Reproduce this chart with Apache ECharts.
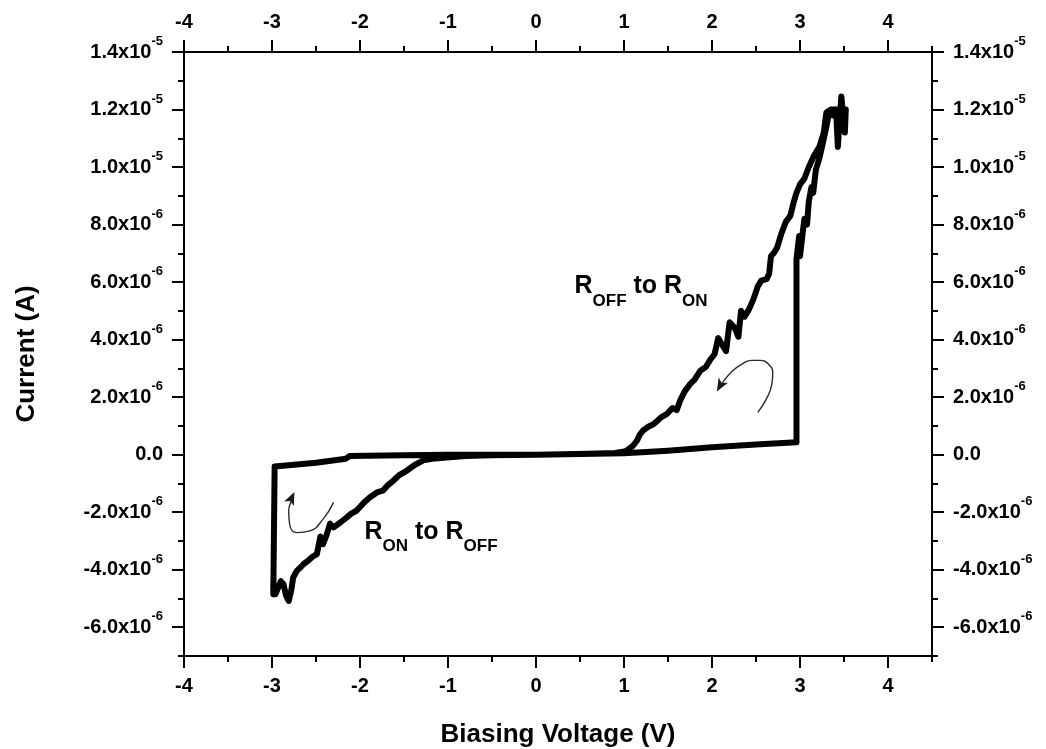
<!DOCTYPE html>
<html>
<head>
<meta charset="utf-8">
<script src="https://cdn.jsdelivr.net/npm/echarts@6/dist/echarts.min.js"></script>
<style>
  html, body { margin: 0; padding: 0; background: #ffffff; }
  #chart { width: 1046px; height: 749px; }
</style>
</head>
<body>
<div id="chart"></div>
<script>
// ---- Data: I-V hysteresis loop (voltage in V, current in µA) ----
const xTickValues = [-4, -3, -2, -1, 0, 1, 2, 3, 4];
const xTickLabels = ['-4', '-3', '-2', '-1', '0', '1', '2', '3', '4'];

const yTickValues   = [-6, -4, -2, 0, 2, 4, 6, 8, 10, 12, 14];
const yTickMantissa = ['-6.0', '-4.0', '-2.0', '0.0', '2.0', '4.0', '6.0', '8.0', '1.0', '1.2', '1.4'];
const yTickExponent = ['-6', '-6', '-6', '', '-6', '-6', '-6', '-6', '-5', '-5', '-5'];

// OFF state, sweeping 0 -> +3 V
const offSweepPositive = [
  [0, 0], [0.5, 0.02], [1.0, 0.05], [1.5, 0.14], [2.0, 0.26], [2.5, 0.35], [2.96, 0.43]
];
// Switching to ON and rising to +3.5 V
const setTransition = [
  [2.96, 6.8], [2.99, 7.6], [3.0, 6.9], [3.03, 7.7], [3.05, 8.2], [3.08, 8.0], [3.1, 8.8],
  [3.13, 9.3], [3.15, 9.1], [3.18, 9.9], [3.22, 10.3], [3.25, 10.7], [3.3, 11.4], [3.33, 11.9],
  [3.37, 11.8], [3.41, 12.0], [3.43, 10.7], [3.45, 11.6], [3.47, 12.45], [3.49, 11.8],
  [3.51, 11.2], [3.52, 12.0]
];
// ON state, sweeping +3.5 V back to 0
const onReturnPositive = [
  [3.5, 11.8], [3.42, 12.0], [3.35, 12.0], [3.3, 11.9], [3.27, 11.2], [3.22, 10.7], [3.16, 10.4],
  [3.1, 10.0], [3.05, 9.6], [3.0, 9.4], [2.96, 9.1], [2.93, 8.8], [2.89, 8.3], [2.84, 8.1],
  [2.79, 7.7], [2.74, 7.2], [2.7, 7.0], [2.67, 6.9], [2.65, 6.3], [2.62, 6.1], [2.56, 6.05],
  [2.52, 5.85], [2.47, 5.4], [2.42, 5.05], [2.37, 4.8], [2.33, 5.0], [2.3, 4.1], [2.26, 4.4],
  [2.2, 4.6], [2.16, 3.6], [2.12, 3.8], [2.07, 4.05], [2.03, 3.5], [1.98, 3.3], [1.93, 3.05],
  [1.87, 2.93], [1.8, 2.6], [1.75, 2.45], [1.69, 2.2], [1.64, 1.9], [1.6, 1.55], [1.55, 1.62],
  [1.49, 1.42], [1.42, 1.3], [1.37, 1.15], [1.33, 1.05], [1.28, 0.98], [1.22, 0.85], [1.18, 0.7],
  [1.15, 0.5], [1.1, 0.3], [1.02, 0.12], [0.9, 0.06], [0.6, 0.03], [0, 0]
];
// ON state, sweeping 0 -> -3 V
const onSweepNegative = [
  [-0.5, -0.02], [-0.8, -0.05], [-0.98, -0.09], [-1.15, -0.13], [-1.28, -0.2], [-1.38, -0.36],
  [-1.47, -0.56], [-1.55, -0.7], [-1.62, -0.9], [-1.68, -1.05], [-1.74, -1.25], [-1.8, -1.3],
  [-1.89, -1.49], [-1.95, -1.65], [-2.04, -1.95], [-2.1, -2.05], [-2.15, -2.18], [-2.22, -2.35],
  [-2.3, -2.53], [-2.34, -2.4], [-2.38, -2.8], [-2.42, -3.11], [-2.45, -2.85], [-2.49, -3.46],
  [-2.54, -3.55], [-2.59, -3.69], [-2.64, -3.8], [-2.68, -3.93], [-2.72, -4.05], [-2.76, -4.28],
  [-2.78, -4.7], [-2.81, -5.09], [-2.84, -4.9], [-2.87, -4.5], [-2.9, -4.4], [-2.93, -4.62],
  [-2.96, -4.85], [-2.985, -4.45], [-2.985, -4.85]
];
// Reset to OFF and sweep back to 0
const offReturnNegative = [
  [-2.97, -0.41], [-2.5, -0.28], [-2.16, -0.14], [-2.12, -0.05], [-1.5, -0.02], [-1.0, 0], [0, 0]
];

// Sweep-direction arrows (arc paths and heads)
const arrowArcSet   = [[2.52, 1.47], [2.62, 1.95], [2.68, 2.45], [2.69, 2.85], [2.64, 3.15], [2.55, 3.28],
                       [2.45, 3.28], [2.34, 3.15], [2.23, 2.9], [2.13, 2.55], [2.07, 2.28]];
const arrowArcReset = [[-2.30, -1.66], [-2.42, -2.24], [-2.57, -2.65], [-2.72, -2.71], [-2.80, -2.41],
                       [-2.81, -1.95], [-2.78, -1.6], [-2.755, -1.38]];
const arrowHeads    = [[2.055, 2.2, 150], [-2.745, -1.3, -25]];

const loop = [].concat(offSweepPositive, setTransition, onReturnPositive, onSweepNegative, offReturnNegative);

// ---- Chart ----
const FONT = '"Liberation Sans", Arial, Helvetica, sans-serif';
const chart = echarts.init(document.getElementById('chart'), null, { renderer: 'canvas' });

function yLabel(val) {
  const i = yTickValues.findIndex(v => Math.abs(v - val) < 1e-9);
  if (i < 0) return '';
  return yTickExponent[i]
    ? '{m|' + yTickMantissa[i] + 'x10}{e|' + yTickExponent[i] + '}'
    : '{m|' + yTickMantissa[i] + '}';
}
function xLabel(val) {
  const i = xTickValues.findIndex(v => Math.abs(v - val) < 1e-9);
  return i < 0 ? '' : xTickLabels[i];
}

const lineStyle = { color: '#000', width: 2 };
const yRich = {
  m: { fontFamily: FONT, fontWeight: 'bold', fontSize: 20, color: '#000', lineHeight: 34, verticalAlign: 'middle' },
  e: { fontFamily: FONT, fontWeight: 'bold', fontSize: 13, color: '#000', lineHeight: 13, verticalAlign: 'top' }
};

function xMajor(position, name) {
  return {
    type: 'value', position: position, min: -4, max: 4.5, interval: 0.5,
    axisLine: { show: true, onZero: false, lineStyle: lineStyle },
    axisTick: { show: true, customValues: xTickValues, length: 12, lineStyle: lineStyle },
    axisLabel: { show: true, customValues: xTickValues, formatter: xLabel, margin: 20,
                 fontFamily: FONT, fontWeight: 'bold', fontSize: 20, color: '#000' },
    splitLine: { show: false },
    name: name || '', nameLocation: 'middle', nameGap: 66,
    nameTextStyle: { fontFamily: FONT, fontWeight: 'bold', fontSize: 26, color: '#000' }
  };
}
function xMinor(position) {
  return {
    type: 'value', position: position, min: -4, max: 4.5, interval: 0.5,
    axisLine: { show: false, onZero: false },
    axisTick: { show: true, length: 6, lineStyle: lineStyle },
    axisLabel: { show: false }, splitLine: { show: false }
  };
}
function yMajor(position, name) {
  return {
    type: 'value', position: position, min: -7, max: 14, interval: 1,
    axisLine: { show: true, onZero: false, lineStyle: lineStyle },
    axisTick: { show: true, customValues: yTickValues, length: 12, lineStyle: lineStyle },
    axisLabel: { show: true, customValues: yTickValues, formatter: yLabel, margin: 21, rich: yRich },
    splitLine: { show: false },
    name: name || '', nameLocation: 'middle', nameRotate: 90, nameGap: 144,
    nameTextStyle: { fontFamily: FONT, fontWeight: 'bold', fontSize: 26, color: '#000' }
  };
}
function yMinor(position) {
  return {
    type: 'value', position: position, min: -7, max: 14, interval: 1,
    axisLine: { show: false, onZero: false },
    axisTick: { show: true, length: 6, lineStyle: lineStyle },
    axisLabel: { show: false }, splitLine: { show: false }
  };
}

const annotationRich = {
  m: { fontFamily: FONT, fontWeight: 'bold', fontSize: 25, color: '#000', lineHeight: 25, verticalAlign: 'top' },
  s: { fontFamily: FONT, fontWeight: 'bold', fontSize: 17, color: '#000', lineHeight: 17, verticalAlign: 'top', padding: [19, 0, 0, 0] }
};

const option = {
  animation: false,
  backgroundColor: '#ffffff',
  grid: { left: 184, right: 114, top: 52, bottom: 93, containLabel: false, outerBoundsMode: 'none' },
  xAxis: [xMajor('bottom', 'Biasing Voltage (V)'), xMinor('bottom'), xMajor('top'), xMinor('top')],
  yAxis: [yMajor('left', 'Current (A)'), yMinor('left'), yMajor('right'), yMinor('right')],
  series: [
    {
      name: 'I-V loop', type: 'line', xAxisIndex: 0, yAxisIndex: 0,
      data: loop, showSymbol: false, symbol: 'none', smooth: false,
      lineStyle: { color: '#000', width: 6, cap: 'round', join: 'round' },
      z: 5
    },
    {
      type: 'line', xAxisIndex: 0, yAxisIndex: 0, data: arrowArcSet, smooth: 0.5,
      showSymbol: false, symbol: 'none', lineStyle: { color: '#2a2a2a', width: 1.4 }, z: 4
    },
    {
      type: 'line', xAxisIndex: 0, yAxisIndex: 0, data: arrowArcReset, smooth: 0.5,
      showSymbol: false, symbol: 'none', lineStyle: { color: '#2a2a2a', width: 1.4 }, z: 4
    },
    {
      type: 'scatter', xAxisIndex: 0, yAxisIndex: 0,
      data: arrowHeads.map(a => ({ value: [a[0], a[1]], symbolRotate: a[2] })),
      symbol: 'arrow', symbolSize: [8, 13], itemStyle: { color: '#1a1a1a', opacity: 1 }, z: 4
    },
    {
      type: 'scatter', xAxisIndex: 0, yAxisIndex: 0, symbolSize: 1,
      itemStyle: { color: 'transparent', opacity: 1 }, silent: true,
      data: [
        { value: [0.443, 6.28], label: { formatter: '{m|R}{s|OFF}{m| to R}{s|ON}' } },
        { value: [-1.943, -2.26], label: { formatter: '{m|R}{s|ON}{m| to R}{s|OFF}' } }
      ],
      label: { show: true, position: [0, 0], align: 'left', verticalAlign: 'top',
               color: '#000', opacity: 1, rich: annotationRich },
      z: 6
    }
  ]
};
chart.setOption(option);
</script>
</body>
</html>
